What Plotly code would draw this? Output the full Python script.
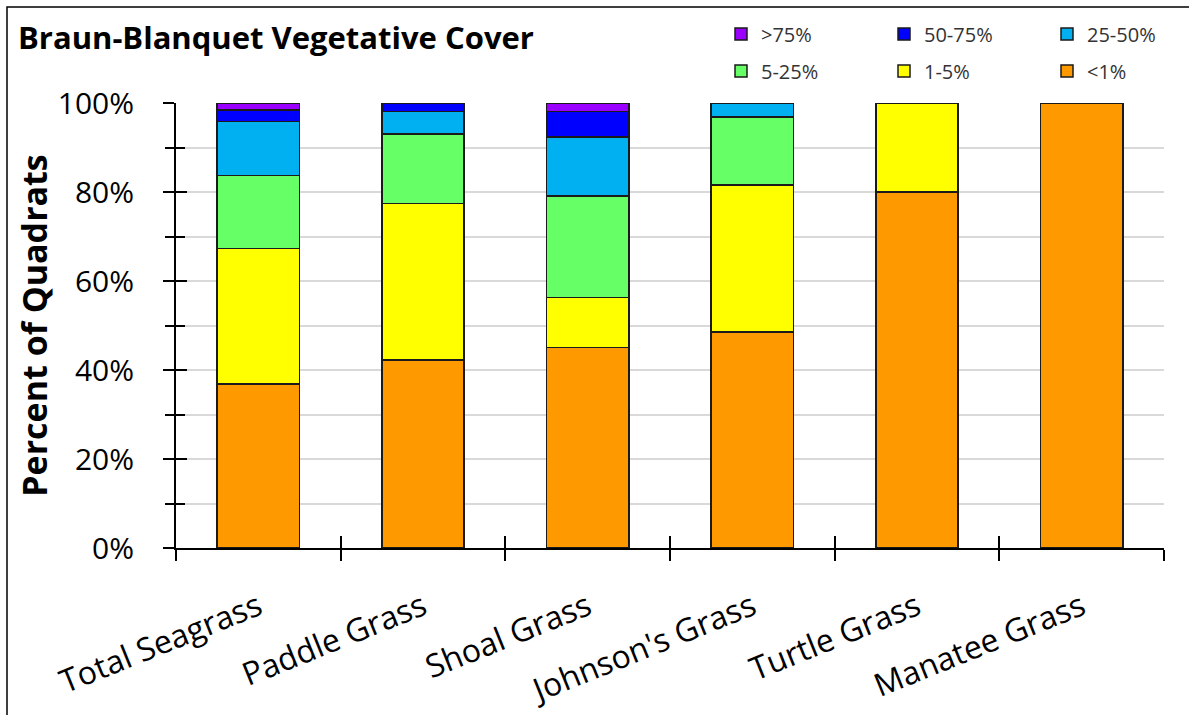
import plotly.graph_objects as go

categories = ["Total Seagrass", "Paddle Grass", "Shoal Grass", "Johnson's Grass", "Turtle Grass", "Manatee Grass"]

# percent of quadrats per cover class (bottom to top of stack)
lt1 = [36.8, 42.2, 45.1, 48.5, 80.0, 100.0]
p1_5 = [30.5, 35.2, 11.2, 33.1, 20.0, 0.0]
p5_25 = [16.4, 15.6, 22.8, 15.3, 0.0, 0.0]
p25_50 = [12.1, 5.1, 13.3, 3.1, 0.0, 0.0]
p50_75 = [2.6, 1.9, 5.7, 0.0, 0.0, 0.0]
gt75 = [1.6, 0.0, 1.9, 0.0, 0.0, 0.0]

series_names = ["<1%", "1-5%", "5-25%", "25-50%", "50-75%", ">75%"]
series_values = [lt1, p1_5, p5_25, p25_50, p50_75, gt75]
series_colors = ["#FF9900", "#FFFF00", "#66FF66", "#00B0F0", "#0000FF", "#9900FF"]

y_ticks = [0, 20, 40, 60, 80, 100]
y_ticktext = [f"{v}%" for v in y_ticks]

FONT = "Open Sans"

W, H = 1189, 715
L, R, T, B = 176, 25, 103, 167
PW, PH = W - L - R, H - T - B


def px_to_paper_x(px):
    return (px - L) / PW


def px_to_paper_y(py):
    return (H - B - py) / PH


# legend slot for each series (2 rows x 3 columns, top-right)
legend_ids = ["legend6", "legend5", "legend4", "legend3", "legend2", "legend"]
legend_x_px = [1047, 884, 721, 1047, 884, 721]
legend_y_px = [71, 71, 71, 34, 34, 34]

fig = go.Figure()
for name, vals, col, lg in zip(series_names, series_values, series_colors, legend_ids):
    fig.add_trace(go.Bar(
        x=categories, y=vals, name=name, legend=lg, showlegend=True,
        marker=dict(color=col, line=dict(color="#1a1a1a", width=1.5)),
    ))

# empty helper trace so overlay axes (for crossing ticks) are drawn
fig.add_trace(go.Scatter(x=[], y=[], xaxis="x2", yaxis="y2", showlegend=False, hoverinfo="skip"))

n = len(categories)
legends = {}
for lg, lx, ly in zip(legend_ids, legend_x_px, legend_y_px):
    legends[lg] = dict(orientation="h", xref="paper", yref="paper", visible=True,
                       x=px_to_paper_x(lx), xanchor="left", y=px_to_paper_y(ly), yanchor="middle",
                       font=dict(size=20, family=FONT, color="#333"), bgcolor="rgba(0,0,0,0)")

fig.update_layout(
    width=W, height=H, showlegend=True,
    barmode="stack", bargap=0.5,
    plot_bgcolor="white", paper_bgcolor="white",
    margin=dict(l=L, r=R, t=T, b=B),
    font=dict(family=FONT, color="black"),
    title=dict(text="<b>Braun-Blanquet Vegetative Cover</b>", font=dict(family=FONT, size=31, color="black"),
               xref="container", x=18/W, xanchor="left",
               yref="container", y=1-38/H, yanchor="middle"),
    xaxis=dict(type="category", categoryorder="array", categoryarray=categories,
               range=[-0.5, n-0.5], tickson="boundaries", ticks="outside", ticklen=11, tickwidth=2,
               tickcolor="black", showline=True, linecolor="black", linewidth=2,
               tickangle=-22, tickfont=dict(size=32, family=FONT), showgrid=False,
               ticklabelstandoff=26, automargin=False),
    xaxis2=dict(overlaying="x", anchor="y", type="linear", range=[-0.5, n-0.5],
                tickvals=[i-0.5 for i in range(n+1)], ticks="inside", ticklen=12, tickwidth=2,
                tickcolor="black", showticklabels=False, showgrid=False, zeroline=False, showline=False,
                side="bottom", automargin=False),
    yaxis=dict(range=[0, 100], tickvals=y_ticks, ticktext=y_ticktext, ticks="outside", ticklen=11, tickwidth=2,
               tickcolor="black", showline=True, linecolor="black", linewidth=2,
               showgrid=True, gridcolor="#d9d9d9", gridwidth=2,
               minor=dict(dtick=10, ticks="outside", ticklen=9, tickwidth=2, tickcolor="black",
                          showgrid=True, gridcolor="#d9d9d9", gridwidth=2),
               tickfont=dict(size=30, family=FONT), ticklabelstandoff=23, zeroline=False, automargin=False,
               title=dict(text="<b>Percent of Quadrats</b>", font=dict(size=34, family=FONT), standoff=0)),
    yaxis2=dict(overlaying="y", anchor="x", side="left", range=[0, 100], tickvals=y_ticks,
                ticks="inside", ticklen=11, tickwidth=2, tickcolor="black", showticklabels=False,
                minor=dict(dtick=10, ticks="inside", ticklen=9, tickwidth=2, tickcolor="black"),
                showgrid=False, zeroline=False, showline=False, automargin=False),
    shapes=[dict(type="rect", xref="paper", yref="paper",
                 x0=px_to_paper_x(7), x1=px_to_paper_x(1200), y0=px_to_paper_y(725), y1=px_to_paper_y(7),
                 line=dict(color="black", width=1.5), fillcolor="rgba(0,0,0,0)", layer="above")],
    **legends,
)

fig.write_html("out.html", config={"displayModeBar": False},
               post_script="document.body.style.margin='0';")
